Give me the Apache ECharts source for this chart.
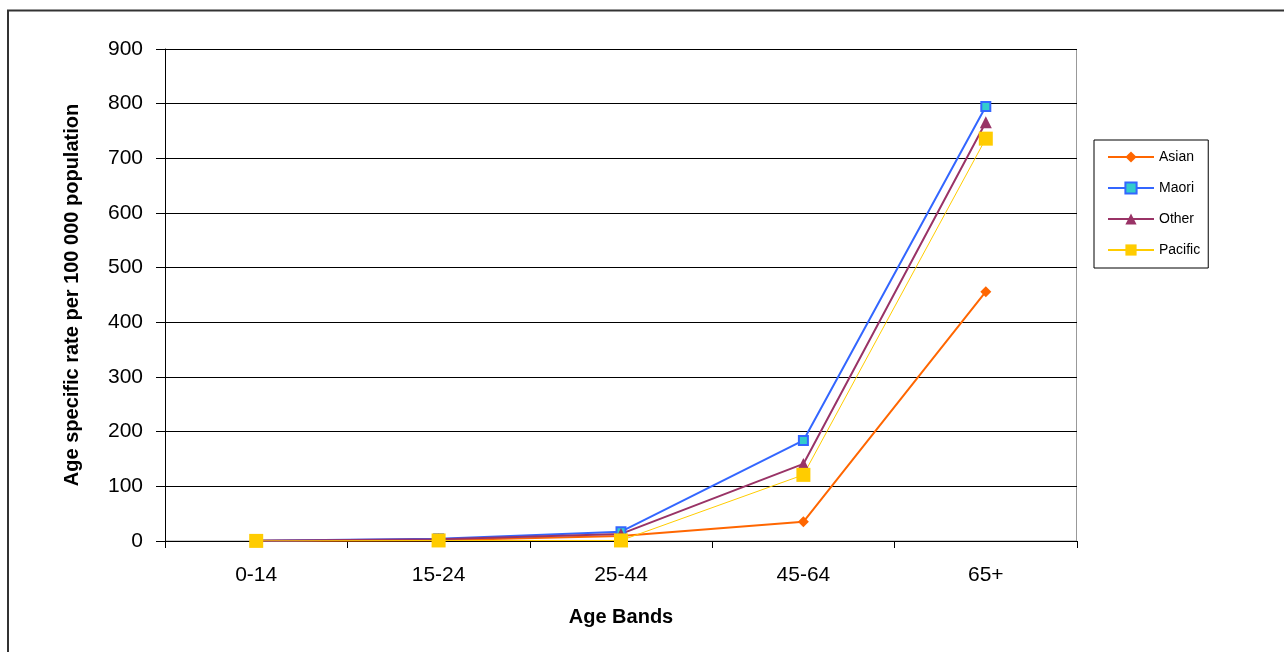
<!DOCTYPE html>
<html><head><meta charset="utf-8">
<script src="https://cdn.jsdelivr.net/npm/echarts@6/dist/echarts.min.js"></script>
<style>html,body{margin:0;padding:0;background:#fff}#c{width:1284px;height:652px}</style>
</head><body><div id="c"></div>
<script>
const categories = ['0-14', '15-24', '25-44', '45-64', '65+'];
const asian = [0.3, 1.5, 9, 35, 456];
const maori = [0.5, 4, 17, 184, 795];
const other = [0.5, 3, 13, 141, 766];
const pacific = [0.2, 1, 1, 121, 736];
const yTicks = { min: 0, max: 900, interval: 100 };

const F = '"Liberation Sans", Arial, sans-serif';
const chart = echarts.init(document.getElementById('c'), null, { renderer: 'canvas' });
function mk(name, data, color, width, symbol, size, fill, bw) {
  return {
    name, type: 'line', data, symbol, symbolSize: size,
    lineStyle: { color, width },
    itemStyle: { color: fill || color, borderColor: color, borderWidth: bw || 0 },
    emphasis: { disabled: true }, animation: false
  };
}
chart.setOption({
  animation: false,
  graphic: [{ type: 'rect', shape: { x: 8, y: 10.5, width: 1300, height: 700 }, style: { fill: 'none', stroke: '#333', lineWidth: 2 }, silent: true },
            { type: 'rect', shape: { x: 165.5, y: 49.5, width: 911, height: 491.5 }, style: { fill: 'none', stroke: '#999', lineWidth: 1 }, silent: true, z: -1 }],
  grid: { left: 165, right: 207, top: 49, bottom: 111, containLabel: false },
  legend: {
    orient: 'vertical', left: 1094, top: 140,
    padding: [10, 8, 11, 13], itemGap: 17, itemWidth: 46, itemHeight: 14,
    borderColor: '#000', borderWidth: 1,
    textStyle: { fontFamily: F, fontSize: 14, color: '#000' },
    data: ['Asian', 'Maori', 'Other', 'Pacific']
  },
  xAxis: {
    type: 'category', data: categories, boundaryGap: true,
    name: 'Age Bands', nameLocation: 'middle', nameGap: 66,
    nameTextStyle: { fontFamily: F, fontSize: 20, fontWeight: 'bold', color: '#000' },
    axisLine: { lineStyle: { color: '#000', width: 1 } },
    axisTick: { show: true, length: 7, lineStyle: { color: '#000' } },
    axisLabel: { fontFamily: F, fontSize: 21, color: '#000', margin: 24 },
    splitLine: { show: false }
  },
  yAxis: {
    type: 'value', min: yTicks.min, max: yTicks.max, interval: yTicks.interval,
    name: 'Age specific rate per 100 000 population', nameLocation: 'middle', nameGap: 83,
    nameTextStyle: { fontFamily: F, fontSize: 20, fontWeight: 'bold', color: '#000' },
    axisLine: { show: true, lineStyle: { color: '#000', width: 1 } },
    axisTick: { show: true, length: 9, lineStyle: { color: '#000' } },
    axisLabel: { fontFamily: F, fontSize: 21, color: '#000', margin: 22 },
    splitLine: { show: true, lineStyle: { color: '#000', width: 1 } }
  },
  series: [
    mk('Asian', asian, '#FF6600', 2, 'diamond', 11),
    mk('Maori', maori, '#3366FF', 2, 'rect', 9, '#33CCCC', 2),
    mk('Other', other, '#993366', 2, 'triangle', 12),
    mk('Pacific', pacific, '#FFCC00', 1, 'rect', 14)
  ]
});
</script></body></html>
